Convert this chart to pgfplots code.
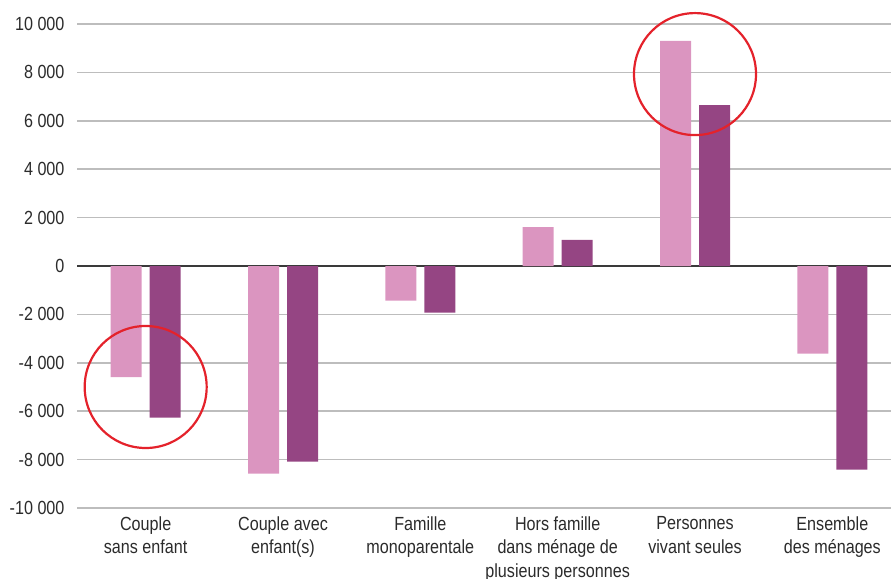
\documentclass[border=0pt]{standalone}
\usepackage{fontspec}
\setmainfont{Liberation Sans}[FakeStretch=0.85]
\usepackage{pgfplots}
\pgfplotsset{compat=1.18}
\definecolor{lightbar}{HTML}{DB95C0}
\definecolor{darkbar}{HTML}{954583}
\definecolor{gridgray}{HTML}{BDBDBD}
\definecolor{zerogray}{HTML}{3A3A3A}
\definecolor{txt}{HTML}{2B2B2B}
\definecolor{ring}{HTML}{E4222B}
\begin{document}
\begin{tikzpicture}
\begin{axis}[
  name=ax,
  scale only axis,
  width=824pt, height=484pt,
  xmin=-0.5, xmax=5.5,
  ymin=-10000, ymax=10000,
  scaled y ticks=false,
  clip=false,
  axis line style={draw=none},
  major tick length=0pt,
  ytick={-10000,-8000,-6000,-4000,-2000,0,2000,4000,6000,8000,10000},
  yticklabels={-10 000,-8 000,-6 000,-4 000,-2 000,0,2 000,4 000,6 000,8 000,10 000},
  ymajorgrids,
  grid style={gridgray, line width=1.5pt},
  extra y ticks={0},
  extra y tick labels={},
  extra y tick style={grid style={zerogray, line width=1.4pt}},
  xtick={0,1,2,3,4,5},
  xticklabels={{Couple\\sans enfant},{Couple avec\\enfant(s)},{Famille\\monoparentale},{Hors famille\\dans ménage de\\plusieurs personnes},{Personnes\\vivant seules},{Ensemble\\des ménages}},
  xticklabel style={align=center, font=\fontsize{19}{23.5}\selectfont, text=txt, yshift=-5pt},
  yticklabel style={font=\fontsize{19}{22}\selectfont, text=txt, xshift=-9pt},
  bar width=31pt,
]
\addplot[ybar, bar shift=-19.5pt, fill=lightbar, draw=none] coordinates {
  (0,-4590) (1,-8580) (2,-1430) (3,1610) (4,9300) (5,-3620)};
\addplot[ybar, bar shift=19.5pt, fill=darkbar, draw=none] coordinates {
  (0,-6270) (1,-8080) (2,-1930) (3,1075) (4,6650) (5,-8410)};
\draw[ring, line width=2.2pt] (axis cs:0,-5000) circle[radius=61pt];
\draw[ring, line width=2.2pt] (axis cs:4,7930) circle[radius=61pt];
\end{axis}
\pgfresetboundingbox
\path[use as bounding box] ([xshift=-77pt,yshift=-70pt]ax.south west) rectangle ([xshift=-10pt,yshift=24pt]ax.north east);
\end{tikzpicture}
\end{document}
